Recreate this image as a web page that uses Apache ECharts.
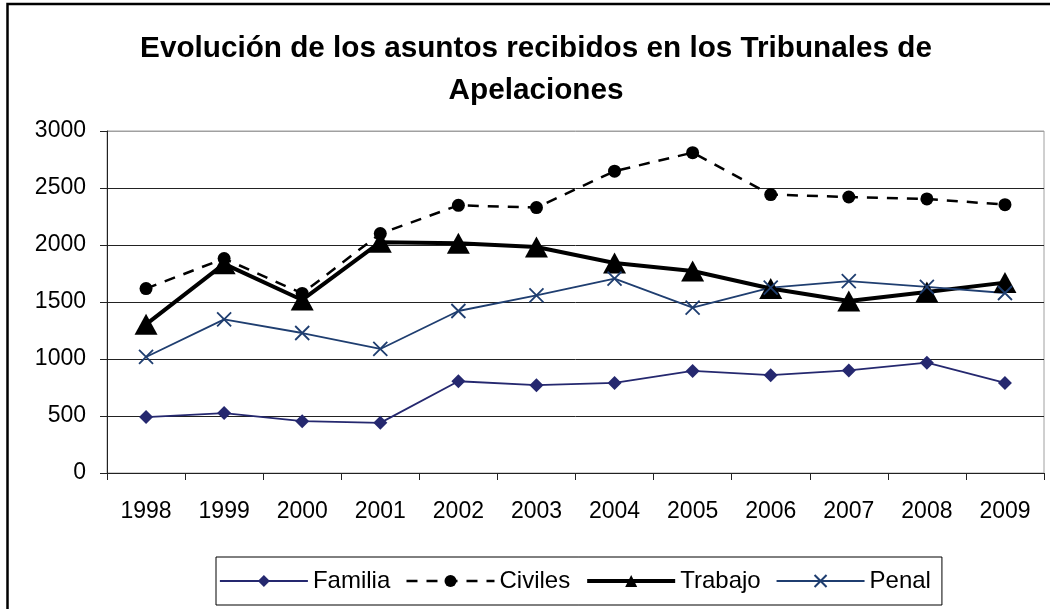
<!DOCTYPE html>
<html>
<head>
<meta charset="utf-8">
<script src="https://cdn.jsdelivr.net/npm/echarts@6/dist/echarts.min.js"></script>
<style>
  html, body { margin: 0; padding: 0; background: #fff; }
  #chart { width: 1050px; height: 609px; }
</style>
</head>
<body>
<div id="chart"></div>
<script>
const titleText = 'Evolución de los asuntos recibidos en los Tribunales de\nApelaciones';
const years = ['1998','1999','2000','2001','2002','2003','2004','2005','2006','2007','2008','2009'];
const familia = [491, 526, 455, 440, 805, 770, 790, 895, 858, 900, 968, 790];
const civiles = [1618, 1881, 1575, 2100, 2348, 2328, 2648, 2810, 2442, 2421, 2404, 2354];
const trabajo = [1304, 1835, 1518, 2025, 2015, 1982, 1842, 1772, 1618, 1508, 1588, 1670];
const penal = [1018, 1348, 1228, 1088, 1421, 1559, 1705, 1451, 1626, 1684, 1632, 1579];
const yTicks = { min: 0, max: 3000, interval: 500 };

const FONT = '"Liberation Sans", Arial, sans-serif';
const chart = echarts.init(document.getElementById('chart'), null, { renderer: 'canvas' });

const crossPath = 'path://M0,0L10,10M10,0L0,10';

chart.setOption({
  backgroundColor: '#ffffff',
  animation: false,
  title: {
    text: titleText,
    left: 536,
    textAlign: 'center',
    top: 28,
    padding: 0,
    textStyle: { fontFamily: FONT, fontSize: 29.7, fontWeight: 'bold', color: '#000', lineHeight: 42 }
  },
  graphic: [{
    type: 'polyline',
    shape: { points: [[7.5, 609], [7.5, 4], [1050, 4]] },
    style: { stroke: '#000', lineWidth: 2.5, fill: null },
    silent: true
  }],
  grid: {
    left: 107, right: 6, top: 131, bottom: 136,
    show: true, borderColor: '#a0a0a0', borderWidth: 1, backgroundColor: 'transparent'
  },
  legend: {
    left: 216, top: 557,
    padding: [12, 11, 12, 3],
    borderColor: '#000', borderWidth: 1,
    itemWidth: 88, itemHeight: 15, itemGap: 15,
    lineStyle: { width: 'inherit' },
    textStyle: { fontFamily: FONT, fontSize: 24, color: '#000' },
    data: ['Familia', 'Civiles', 'Trabajo', 'Penal']
  },
  xAxis: {
    type: 'category',
    data: years,
    boundaryGap: true,
    axisLine: { lineStyle: { color: '#222', width: 1 } },
    axisTick: { show: true, length: 7, lineStyle: { color: '#222' } },
    axisLabel: { fontFamily: FONT, fontSize: 23, color: '#000', margin: 27 },
    splitLine: { show: false }
  },
  yAxis: {
    type: 'value',
    min: yTicks.min, max: yTicks.max, interval: yTicks.interval,
    axisLine: { show: true, lineStyle: { color: '#222', width: 1 } },
    axisTick: { show: true, length: 7, lineStyle: { color: '#222' } },
    axisLabel: { fontFamily: FONT, fontSize: 23, color: '#000', margin: 21, formatter: v => String(v) },
    splitLine: { show: true, lineStyle: { color: ['#222','#222','#222','#222','#222','#222','#a0a0a0'], width: 1 } }
  },
  series: [
    {
      name: 'Familia', type: 'line', data: familia,
      symbol: 'diamond', symbolSize: 14,
      lineStyle: { color: '#25286f', width: 1.8 },
      itemStyle: { color: '#25286f' }
    },
    {
      name: 'Civiles', type: 'line', data: civiles,
      symbol: 'circle', symbolSize: 13,
      lineStyle: { color: '#000', width: 2.5, type: [11, 9] },
      itemStyle: { color: '#000' }
    },
    {
      name: 'Trabajo', type: 'line', data: trabajo,
      symbol: 'triangle', symbolSize: [23, 21],
      lineStyle: { color: '#000', width: 4 },
      itemStyle: { color: '#000' }
    },
    {
      name: 'Penal', type: 'line', data: penal,
      symbol: crossPath, symbolSize: 14,
      lineStyle: { color: '#1f3e70', width: 1.8 },
      itemStyle: { color: '#1f3e70', borderColor: '#1f3e70', borderWidth: 1.8 }
    }
  ]
});
</script>
</body>
</html>
